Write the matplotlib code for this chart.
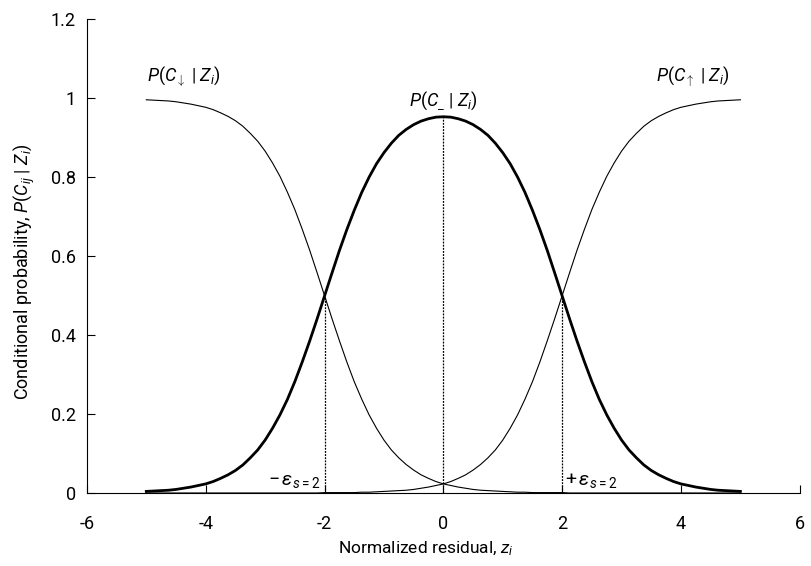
import matplotlib
matplotlib.use("Agg")
import matplotlib.pyplot as plt

plt.rcParams['font.family'] = ['Roboto', 'DejaVu Sans']
plt.rcParams['mathtext.fontset'] = 'custom'
plt.rcParams['mathtext.rm'] = 'Roboto'
plt.rcParams['mathtext.it'] = 'Roboto:italic'
plt.rcParams['axes.unicode_minus'] = False

# normalized residual grid, -5 .. 5 in steps of 0.125
z = [-5.0, -4.875, -4.75, -4.625, -4.5, -4.375, -4.25, -4.125,
     -4.0, -3.875, -3.75, -3.625, -3.5, -3.375, -3.25, -3.125,
     -3.0, -2.875, -2.75, -2.625, -2.5, -2.375, -2.25, -2.125,
     -2.0, -1.875, -1.75, -1.625, -1.5, -1.375, -1.25, -1.125,
     -1.0, -0.875, -0.75, -0.625, -0.5, -0.375, -0.25, -0.125,
     0.0, 0.125, 0.25, 0.375, 0.5, 0.625, 0.75, 0.875,
     1.0, 1.125, 1.25, 1.375, 1.5, 1.625, 1.75, 1.875,
     2.0, 2.125, 2.25, 2.375, 2.5, 2.625, 2.75, 2.875,
     3.0, 3.125, 3.25, 3.375, 3.5, 3.625, 3.75, 3.875,
     4.0, 4.125, 4.25, 4.375, 4.5, 4.625, 4.75, 4.875, 5.0]

# P(C_down | Z)
p_down = [0.996, 0.995, 0.994, 0.993, 0.991, 0.988, 0.985, 0.981,
          0.977, 0.971, 0.963, 0.954, 0.943, 0.929, 0.911, 0.891,
          0.866, 0.836, 0.802, 0.762, 0.718, 0.668, 0.615, 0.558,
          0.500, 0.442, 0.386, 0.332, 0.282, 0.238, 0.198, 0.164,
          0.134, 0.109, 0.089, 0.072, 0.058, 0.046, 0.037, 0.029,
          0.023, 0.019, 0.015, 0.012, 0.009, 0.007, 0.006, 0.005,
          0.004, 0.003, 0.002, 0.002, 0.001, 0.001, 0.001, 0.001,
          0.001, 0.000, 0.000, 0.000, 0.000, 0.000, 0.000, 0.000,
          0.000, 0.000, 0.000, 0.000, 0.000, 0.000, 0.000, 0.000,
          0.000, 0.000, 0.000, 0.000, 0.000, 0.000, 0.000, 0.000, 0.000]

# P(C_up | Z)
p_up = [0.000, 0.000, 0.000, 0.000, 0.000, 0.000, 0.000, 0.000,
        0.000, 0.000, 0.000, 0.000, 0.000, 0.000, 0.000, 0.000,
        0.000, 0.000, 0.000, 0.000, 0.000, 0.000, 0.000, 0.000,
        0.001, 0.001, 0.001, 0.001, 0.001, 0.002, 0.002, 0.003,
        0.004, 0.005, 0.006, 0.007, 0.009, 0.012, 0.015, 0.019,
        0.023, 0.029, 0.037, 0.046, 0.058, 0.072, 0.089, 0.109,
        0.134, 0.164, 0.198, 0.238, 0.282, 0.332, 0.386, 0.442,
        0.500, 0.558, 0.615, 0.668, 0.718, 0.762, 0.802, 0.836,
        0.866, 0.891, 0.911, 0.929, 0.943, 0.954, 0.963, 0.971,
        0.977, 0.981, 0.985, 0.988, 0.991, 0.993, 0.994, 0.995, 0.996]

# P(C_- | Z)
p_mid = [0.004, 0.005, 0.006, 0.007, 0.009, 0.012, 0.015, 0.019,
         0.023, 0.029, 0.037, 0.046, 0.057, 0.071, 0.089, 0.109,
         0.134, 0.164, 0.198, 0.237, 0.282, 0.332, 0.385, 0.441,
         0.499, 0.557, 0.614, 0.667, 0.716, 0.761, 0.800, 0.834,
         0.862, 0.886, 0.906, 0.921, 0.933, 0.942, 0.948, 0.952,
         0.953, 0.952, 0.948, 0.942, 0.933, 0.921, 0.906, 0.886,
         0.862, 0.834, 0.800, 0.761, 0.716, 0.667, 0.614, 0.557,
         0.499, 0.441, 0.385, 0.332, 0.282, 0.237, 0.198, 0.164,
         0.134, 0.109, 0.089, 0.071, 0.057, 0.046, 0.037, 0.029,
         0.023, 0.019, 0.015, 0.012, 0.009, 0.007, 0.006, 0.005, 0.004]

# threshold markers (z, height)
marker_z = [-2.0, 0.0, 2.0]
marker_h = [0.500, 0.953, 0.500]

xticks = [-6, -4, -2, 0, 2, 4, 6]
yticks = [0, 0.2, 0.4, 0.6, 0.8, 1.0, 1.2]
yticklabels = ['0', '0.2', '0.4', '0.6', '0.8', '1', '1.2']

fig = plt.figure(figsize=(8.12, 5.66), dpi=100)
ax = fig.add_axes([0.107, 0.129, 0.878, 0.837])

ax.plot(z, p_down, color='black', lw=0.8, solid_joinstyle='round')
ax.plot(z, p_up, color='black', lw=0.8, solid_joinstyle='round')
ax.plot(z, p_mid, color='black', lw=2.0, solid_joinstyle='round')

for mz, mh in zip(marker_z, marker_h):
    ax.plot([mz, mz], [0, mh], color='black', lw=0.9, ls=(0, (1.5, 1)))

ax.text(-4.37, 1.025, r'$P(C_{\downarrow}$ | $Z_i)$', ha='center', va='bottom', fontsize=13)
ax.text(0.0, 0.965, r'$P(C_{\_}$ | $Z_i)$', ha='center', va='bottom', fontsize=13)
ax.text(4.2, 1.025, r'$P(C_{\uparrow}$ | $Z_i)$', ha='center', va='bottom', fontsize=13)
ax.text(-2.08, 0.008, r'$-\,\varepsilon_{s=2}$', ha='right', va='bottom', fontsize=14)
ax.text(2.05, 0.008, r'$+\,\varepsilon_{s=2}$', ha='left', va='bottom', fontsize=14)

ax.set_xlim(-6, 6)
ax.set_ylim(0, 1.2)
ax.set_xticks(xticks)
ax.set_xticklabels([str(t) for t in xticks])
ax.set_yticks(yticks)
ax.set_yticklabels(yticklabels)
ax.tick_params(direction='in', length=6, width=0.8, labelsize=13)
ax.tick_params(axis='x', pad=16)
ax.tick_params(axis='y', pad=8)
ax.spines['top'].set_visible(False)
ax.spines['right'].set_visible(False)

ax.set_xlabel(r'Normalized residual, $z_i$', fontsize=12.5)
ax.set_ylabel(r'Conditional probability, $P(C_{ij}$ | $Z_i)$', fontsize=13)
ax.xaxis.set_label_coords(0.475, -0.098)
ax.yaxis.set_label_coords(-0.07, 0.468)

fig.savefig('out.png', dpi=100)
